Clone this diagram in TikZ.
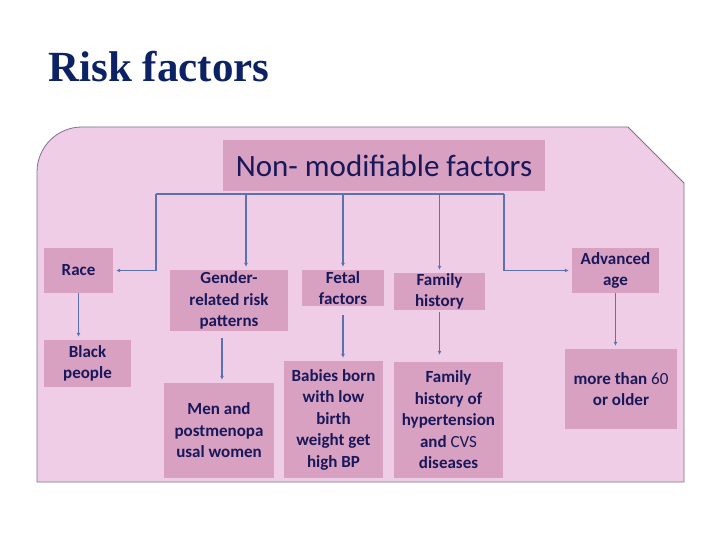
\documentclass[tikz,border=0pt]{standalone}
\usepackage{fontspec}
\setmainfont{Carlito}
\newfontfamily\titlefont{Liberation Serif}
\usepackage{tikz}
\usetikzlibrary{
  arrows.meta,
  positioning,
  calc
}

\definecolor{slidebg}{RGB}{240,205,230}
\definecolor{boxfill}{RGB}{216,160,193}
\definecolor{navytext}{RGB}{24,24,90}
\definecolor{titleblue}{RGB}{12,34,100}
\definecolor{linkblue}{RGB}{92,114,172}
\definecolor{framegrey}{RGB}{128,112,150}

\begin{document}
\begin{tikzpicture}[
    x=1pt, y=-1pt,
    >={Latex[length=4pt,width=4pt]},
    fbox/.style={fill=boxfill, text=navytext, align=center, inner sep=0pt,
      font=\fontsize{17}{21.5}\selectfont\bfseries},
    link/.style={draw=linkblue, line width=1.8pt},
    arrowlink/.style={link, ->, shorten >=3pt}
    ]

    \useasboundingbox[fill=white] (0,0) rectangle (720,540);

    % slide frame
    \draw[framegrey, fill=slidebg, line width=0.8pt]
    (37,482) -- (37,172)
    .. controls (37,147.1) and (57.1,127) .. (82,127)
    -- (628,127) -- (684,183) -- (684,482) -- cycle;

    \node[font=\titlefont\fontsize{43}{50}\selectfont\bfseries, text=titleblue,
      anchor=base west] (title) at (45,82) {Risk factors};

    \node[fbox, font=\fontsize{31}{36}\selectfont, minimum width=322pt,
      minimum height=51pt] (hdr) at (384,165.5) {Non- modifiable factors};

    \node[fbox, minimum width=69pt, minimum height=45pt] (race) at (78.5,270.5) {Race};
    \node[fbox, minimum width=87pt, minimum height=47pt] (black) at (87.5,363.5) {Black\\people};
    \node[fbox, minimum width=118pt, minimum height=61pt] (gender) at (229,300.5)
    {Gender-\\related risk\\patterns};
    \node[fbox, minimum width=110pt, minimum height=95pt] (men) at (219,430.5)
    {Men and\\postmenopa\\usal women};
    \node[fbox, minimum width=82pt, minimum height=36pt] (fetal) at (343,288) {Fetal\\factors};
    \node[fbox, minimum width=99pt, minimum height=117pt] (babies) at (333.5,419.5)
    {Babies born\\with low\\birth\\weight get\\high BP};
    \node[fbox, minimum width=91pt, minimum height=37pt] (famh) at (439.5,291.5) {Family\\history};
    \node[fbox, minimum width=109pt, minimum height=116pt] (famhist) at (448.5,420)
    {Family\\history of\\hypertension\\and {\mdseries CVS}\\diseases};
    \node[fbox, minimum width=87pt, minimum height=45pt] (adv) at (615.5,270.5) {Advanced\\age};
    \node[fbox, minimum width=112pt, minimum height=80pt] (older) at (621,389)
    {more than {\mdseries 60}\\or older};

    % bus under the header
    \coordinate (busL) at (156,194);
    \coordinate (busR) at (504,194);
    \coordinate (tapG) at (246,194);
    \draw[link] (busL) -- (busR);

    \draw[arrowlink] (busL) |- (race.east);
    \draw[arrowlink] (tapG) -- (tapG |- gender.north);
    \draw[arrowlink] (fetal.north |- busL) -- (fetal.north);
    \draw[arrowlink] (famh.north |- busL) -- (famh.north);
    \draw[arrowlink] (busR) |- (adv.west);

    \draw[arrowlink] (race.south) -- (race.south |- black.north);
    \draw[arrowlink, shorten <=7pt] ($(gender.south)+(-7,0)$) -- ($(gender.south |- men.north)+(-7,0)$);
    \draw[arrowlink, shorten <=9pt] (fetal.south) -- (fetal.south |- babies.north);
    \draw[arrowlink, shorten <=2pt, shorten >=7pt] (famh.south) -- (famh.south |- famhist.north);
    \draw[arrowlink] (adv.south) -- (adv.south |- older.north);

\end{tikzpicture}
\end{document}
